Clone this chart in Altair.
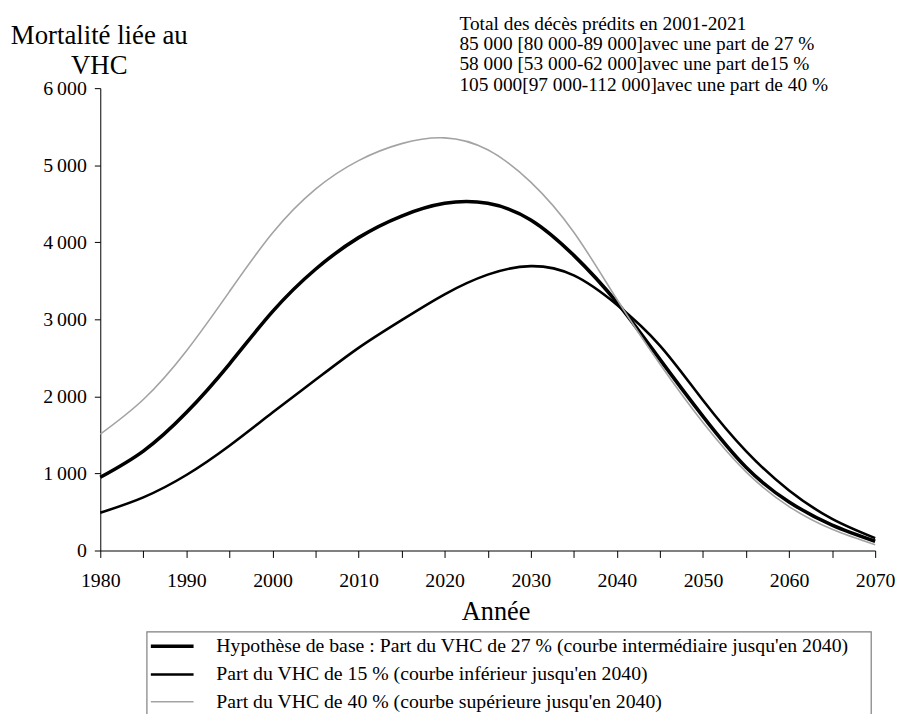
import altair as alt
import pandas as pd

years = [1980, 1985, 1990, 1995, 2000, 2005, 2010, 2015, 2020, 2025,
         2030, 2035, 2040, 2045, 2050, 2055, 2060, 2065, 2070]
base_27 = [950, 1290, 1790, 2420, 3100, 3650, 4060, 4340, 4505, 4505,
           4290, 3830, 3220, 2480, 1740, 1080, 630, 330, 120]
low_15 = [490, 690, 980, 1360, 1790, 2215, 2630, 2990, 3325, 3580,
          3690, 3570, 3190, 2660, 1950, 1290, 780, 410, 160]
high_40 = [1510, 1960, 2590, 3360, 4120, 4690, 5060, 5280, 5355, 5200,
           4780, 4130, 3260, 2420, 1660, 1020, 570, 275, 75]

series_labels = [
    "Hypothèse de base : Part du VHC de 27 % (courbe intermédiaire jusqu'en 2040)",
    "Part du VHC de 15 % (courbe inférieur jusqu'en 2040)",
    "Part du VHC de 40 % (courbe supérieure jusqu'en 2040)",
]
annotation_lines = [
    "Total des décès prédits en 2001-2021",
    "85 000 [80 000-89 000]avec une part de 27 %",
    "58 000 [53 000-62 000]avec une part de15 %",
    "105 000[97 000-112 000]avec une part de 40 %",
]
y_title_lines = ["Mortalité liée au", "VHC"]
x_title = ["Année"]

rows = []
for lab, vals in zip(series_labels, [base_27, low_15, high_40]):
    for yr, v in zip(years, vals):
        rows.append({"Année": yr, "Mortalité": v, "Série": lab})
df = pd.DataFrame(rows)

FONT = "Liberation Serif"

lines = alt.Chart(df).mark_line(interpolate="natural").encode(
    x=alt.X("Année:Q",
            scale=alt.Scale(domain=[1980, 2070], nice=False, zero=False),
            axis=alt.Axis(values=list(range(1980, 2071, 5)),
                          labelExpr="datum.value % 10 == 0 ? datum.value : ''",
                          title=None,
                          labelFontSize=20, labelFont=FONT, labelPadding=13,
                          tickSize=7, grid=False, domainColor="black",
                          tickColor="black", labelColor="black",
                          labelFlush=False)),
    y=alt.Y("Mortalité:Q",
            scale=alt.Scale(domain=[0, 6000], nice=False),
            axis=alt.Axis(values=[0, 1000, 2000, 3000, 4000, 5000, 6000],
                          labelExpr="replace(format(datum.value, ',d'), ',', '\u2009')",
                          title=None, labelFontSize=20, labelFont=FONT,
                          labelPadding=8, tickSize=6, grid=False,
                          domainColor="black", tickColor="black",
                          labelColor="black")),
    color=alt.Color("Série:N",
                    scale=alt.Scale(domain=series_labels,
                                    range=["black", "black", "#a3a3a3"]),
                    legend=alt.Legend(title=None, orient="none", legendX=56,
                                      legendY=546, padding=0,
                                      symbolType="M-1.5,0H1.5",
                                      symbolSize=825, labelFont=FONT,
                                      labelFontSize=19.9, labelColor="black",
                                      labelOffset=28, rowPadding=2,
                                      labelLimit=900, symbolOffset=0)),
    strokeWidth=alt.StrokeWidth("Série:N",
                                scale=alt.Scale(domain=series_labels,
                                                range=[3.6, 1.6, 1.6]),
                                legend=alt.Legend(title=None)),
    order=alt.Order("Année:Q"),
)

legend_box = alt.Chart(pd.DataFrame({"k": [0]})).mark_rect(
    fill=None, stroke="#7f7f7f", strokeWidth=1.2).encode(
    x=alt.value(47), x2=alt.value(777), y=alt.value(548), y2=alt.value(700))

ann_df = pd.DataFrame({"t": annotation_lines, "i": list(range(len(annotation_lines)))})
annot = alt.Chart(ann_df).mark_text(align="left", baseline="alphabetic",
                                    font=FONT, fontSize=19.5, color="black").encode(
    x=alt.value(362),
    y=alt.Y("i:O", axis=None,
            scale=alt.Scale(type="point", range=[-59, 2.5], padding=0)),
    text="t:N",
)

yt_df = pd.DataFrame({"t": y_title_lines, "i": [0, 1]})
ytitle = alt.Chart(yt_df).mark_text(align="center", baseline="alphabetic",
                                    font=FONT, fontSize=27, color="black").encode(
    x=alt.value(-1),
    y=alt.Y("i:O", axis=None,
            scale=alt.Scale(type="point", range=[-44, -14], padding=0)),
    text="t:N",
)

xt = alt.Chart(pd.DataFrame({"t": x_title})).mark_text(
    align="center", baseline="alphabetic", font=FONT, fontSize=26.5,
    color="black").encode(x=alt.value(399), y=alt.value(536), text="t:N")

chart = alt.layer(legend_box, lines, annot, ytitle, xt).resolve_scale(
    y="independent").properties(
    width=781, height=466,
    autosize=alt.AutoSizeParams(type="none"),
    padding={"left": 93, "top": 78, "right": 22, "bottom": 162},
).configure_view(stroke=None)

chart.save("out.html", embed_options={"renderer": "svg", "actions": False})
